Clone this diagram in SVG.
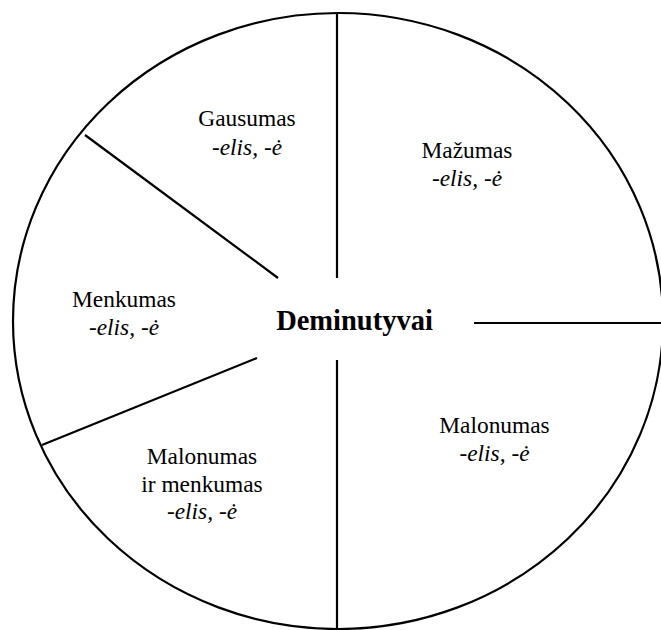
<svg xmlns="http://www.w3.org/2000/svg" width="661" height="630" viewBox="0 0 661 630">
<style>
.ln{stroke:#000;stroke-width:2.2;fill:none}
.t{font-family:"Liberation Serif","Times New Roman",serif;font-size:23.4px;fill:#000;text-anchor:middle}
.i{font-style:italic}
.b{font-weight:bold;font-size:28.5px}
</style>
<rect width="661" height="630" fill="#fff"/>
<g id="connectors">
<ellipse class="ln" cx="338" cy="321" rx="325" ry="308"/>
<line class="ln" x1="337" y1="13" x2="337" y2="278"/>
<line class="ln" x1="337" y1="360" x2="337" y2="630"/>
<line class="ln" x1="474" y1="323" x2="661" y2="323"/>
<line class="ln" x1="85" y1="135" x2="278" y2="278"/>
<line class="ln" x1="42" y1="445" x2="257" y2="358"/>
</g>
<g id="center"><text class="t b" x="354.5" y="330">Deminutyvai</text></g>
<g id="gausumas"><text class="t" x="247" y="126">Gausumas</text><text class="t i" x="247" y="155">-elis, -ė</text></g>
<g id="mazumas"><text class="t" x="467" y="158">Mažumas</text><text class="t i" x="467" y="186">-elis, -ė</text></g>
<g id="menkumas"><text class="t" x="124" y="307">Menkumas</text><text class="t i" x="124" y="335">-elis, -ė</text></g>
<g id="malonumas"><text class="t" x="494.5" y="433">Malonumas</text><text class="t i" x="494.5" y="461">-elis, -ė</text></g>
<g id="malonumas-menkumas"><text class="t" x="202" y="464">Malonumas</text><text class="t" x="202" y="492">ir menkumas</text><text class="t i" x="202" y="519">-elis, -ė</text></g>
</svg>
